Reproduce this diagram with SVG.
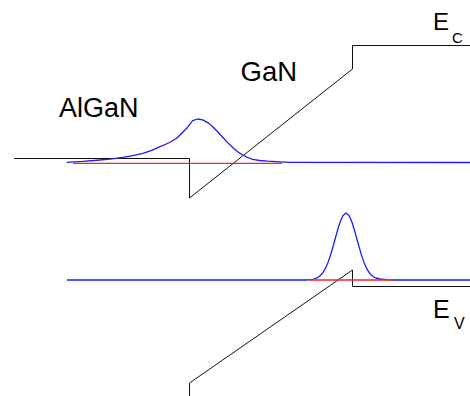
<svg xmlns="http://www.w3.org/2000/svg" width="470" height="396" viewBox="0 0 470 396">
<style>
.band{fill:none;stroke:#111;stroke-width:1}
.wf{fill:none;stroke:#1a1aff;stroke-width:1.3;stroke-linejoin:round}
.lvl{fill:none;stroke:#ff2020;stroke-width:1.3}
.lbl{font-family:"Liberation Sans",Arial,sans-serif;fill:#000}
</style>
<rect width="470" height="396" fill="#fff"/>
<g id="conduction-band">
<path class="band" d="M14,158.5 H189.5 V198 L352.5,69 V45.5 H470"/>
</g>
<g id="valence-band">
<path class="band" d="M189.5,396 V383 L352.5,270 V286.5 H470"/>
</g>
<g id="electron-wavefunction">
<polyline class="wf" points="66.7,162.3 82.7,161.4 100,160 111.7,158.9 123,157.3 132.7,155.6 143,153.3 151.7,150.4 160,146.7 168.7,143 176.7,138.3 181.7,133.3 186.7,128.3 192.7,120.6 197.7,119 202.7,119.9 207.7,122.6 212.7,126.7 217.7,131.8 222.7,137.2 227.7,142.6 232.7,147.5 237.7,151.7 242.7,155 247.7,157.5 252.7,159.4 259.7,160.5 267.7,161.2 279.7,161.8 290,162.3 470,162.5"/>
<line class="lvl" x1="73" y1="163.3" x2="282" y2="163.3"/>
</g>
<g id="hole-wavefunction">
<polyline class="wf" points="67,280 306,280 310,279.7 313,279.3 316,278.4 319,276.7 322,273.8 325,269.2 328,262.4 331,253.6 334,243 337,232.1 340,222.3 343,215.5 346,213 349,215.5 352,222.3 355,232.1 358,243 361,253.6 364,262.4 367,269.2 370,273.8 373,276.5 376,278 380,279 386,279.7 393,280 470,280"/>
<line class="lvl" x1="309" y1="280" x2="393" y2="280"/>
</g>
<g id="label-algan"><text class="lbl" x="59" y="117" font-size="27">AlGaN</text></g>
<g id="label-gan"><text class="lbl" x="240.5" y="81" font-size="27.5">GaN</text></g>
<g id="label-ec"><text class="lbl" x="433" y="30" font-size="24">E</text><text class="lbl" x="452" y="43" font-size="15">C</text></g>
<g id="label-ev"><text class="lbl" x="433" y="318" font-size="25">E</text><text class="lbl" x="454" y="329" font-size="16">V</text></g>
</svg>
